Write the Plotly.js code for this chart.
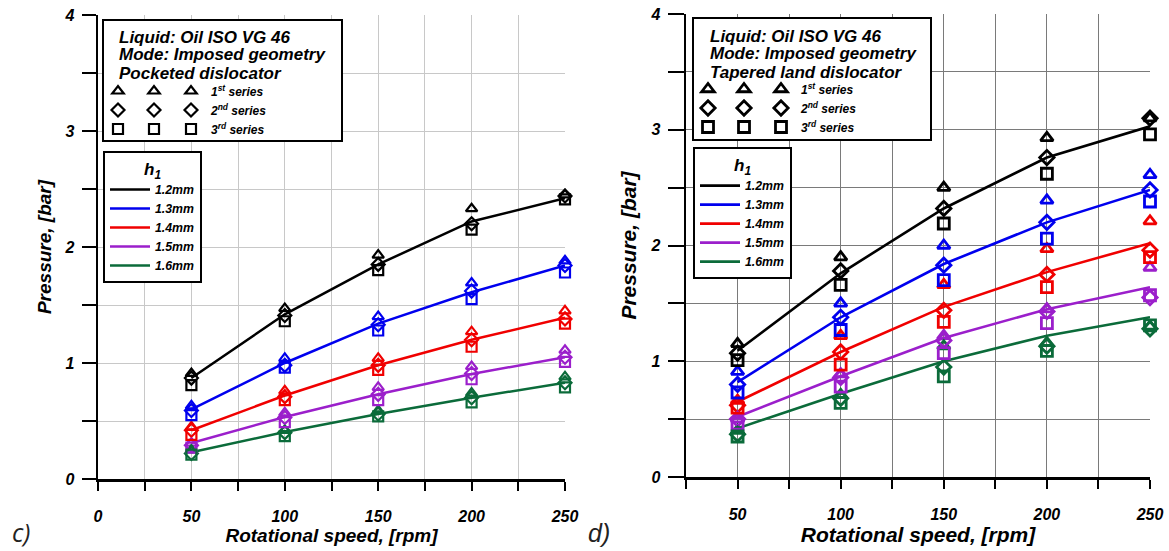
<!DOCTYPE html>
<html><head><meta charset="utf-8">
<script src="https://cdn.plot.ly/plotly-3.0.1.min.js"></script>
<style>html,body{margin:0;padding:0;background:#fff;} #chart{width:1169px;height:551px;}</style>
</head><body><div id="chart"></div>
<script>
// ---------- data ----------
const rpm = [50, 100, 150, 200, 250];
const h1Labels = ['1.2mm', '1.3mm', '1.4mm', '1.5mm', '1.6mm'];
const seriesLabels = ['1<sup>st</sup> series', '2<sup>nd</sup> series', '3<sup>rd</sup> series'];
const colors = ['#000000', '#0000ee', '#f00000', '#9b1fcb', '#0b6b3a'];

// panel c) Pocketed dislocator : rows = h1 1.2 .. 1.6 mm
const cFit = [
  [0.87, 1.42, 1.85, 2.22, 2.42],
  [0.60, 1.00, 1.34, 1.61, 1.84],
  [0.42, 0.72, 0.98, 1.20, 1.39],
  [0.31, 0.535, 0.73, 0.905, 1.05],
  [0.23, 0.405, 0.56, 0.70, 0.83]
];
const cSer1 = [
  [0.91, 1.47, 1.93, 2.33, 2.45],
  [0.63, 1.04, 1.40, 1.69, 1.88],
  [0.45, 0.76, 1.04, 1.27, 1.45],
  [0.31, 0.57, 0.79, 0.97, 1.11],
  [0.25, 0.42, 0.59, 0.74, 0.88]
];
const cSer2 = [
  [0.87, 1.41, 1.85, 2.20, 2.44],
  [0.59, 0.98, 1.33, 1.62, 1.84],
  [0.42, 0.71, 0.98, 1.20, 1.38],
  [0.29, 0.53, 0.73, 0.91, 1.05],
  [0.22, 0.40, 0.56, 0.70, 0.83]
];
const cSer3 = [
  [0.81, 1.36, 1.80, 2.15, 2.41],
  [0.55, 0.96, 1.28, 1.55, 1.78],
  [0.38, 0.68, 0.94, 1.14, 1.34],
  [0.27, 0.49, 0.68, 0.86, 1.01],
  [0.21, 0.37, 0.54, 0.66, 0.79]
];

// panel d) Tapered land dislocator
const dFit = [
  [1.09, 1.76, 2.32, 2.76, 3.03],
  [0.82, 1.38, 1.84, 2.20, 2.48],
  [0.65, 1.08, 1.47, 1.77, 2.02],
  [0.52, 0.87, 1.20, 1.45, 1.64],
  [0.42, 0.72, 1.00, 1.22, 1.38]
];
const dSer1 = [
  [1.15, 1.90, 2.50, 2.93, 3.10],
  [0.91, 1.50, 2.00, 2.39, 2.61],
  [0.66, 1.22, 1.66, 1.97, 2.21],
  [0.50, 0.89, 1.22, 1.45, 1.81],
  [0.40, 0.71, 1.13, 1.16, 1.30]
];
const dSer2 = [
  [1.07, 1.78, 2.32, 2.76, 3.10],
  [0.80, 1.38, 1.83, 2.20, 2.48],
  [0.62, 1.08, 1.44, 1.75, 1.96],
  [0.50, 0.86, 1.18, 1.43, 1.55],
  [0.37, 0.68, 0.95, 1.13, 1.28]
];
const dSer3 = [
  [1.01, 1.66, 2.19, 2.62, 2.96],
  [0.73, 1.27, 1.70, 2.06, 2.38],
  [0.60, 0.97, 1.34, 1.64, 1.90],
  [0.46, 0.78, 1.07, 1.33, 1.57],
  [0.35, 0.64, 0.87, 1.09, 1.31]
];

const xTitle = 'Rotational speed, [rpm]';
const yTitle = 'Pressure, [bar]';
const cInfo = ['Liquid: Oil ISO VG 46', 'Mode: Imposed geometry', 'Pocketed dislocator'];
const dInfo = ['Liquid: Oil ISO VG 46', 'Mode: Imposed geometry', 'Tapered land dislocator'];

// ---------- helpers ----------
const W = 1169, H = 551;
const px = v => v / W;
const py = v => 1 - v / H;
const FONT = '"Liberation Sans", Arial, sans-serif';
const bi = (size) => ({family: FONT, size: size, weight: 'bold', style: 'italic', color: '#000'});
const symbols = ['triangle-up-open', 'diamond-open', 'square-open'];

const traces = [];
function addPanel(fit, sers, xa, ya, lw, msize, mlw, legCols, legH) {
  fit.forEach((vals, i) => {
    traces.push({x: rpm, y: vals, xaxis: xa, yaxis: ya, type: 'scatter', mode: 'lines',
      line: {color: colors[i], width: lw}, name: h1Labels[i], legend: legH,
      cliponaxis: false, hoverinfo: 'skip'});
  });
  sers.forEach((ser, s) => {
    ser.forEach((vals, i) => {
      traces.push({x: rpm, y: vals, xaxis: xa, yaxis: ya, type: 'scatter', mode: 'markers',
        marker: {symbol: symbols[s], size: msize, color: colors[i], line: {color: colors[i], width: mlw}},
        showlegend: false, cliponaxis: false, hoverinfo: 'skip'});
    });
  });
  legCols.forEach((lg, c) => {
    symbols.forEach((sym, s) => {
      traces.push({x: [null], y: [null], xaxis: xa, yaxis: ya, type: 'scatter', mode: 'markers',
        marker: {symbol: sym, size: msize, color: '#000', line: {color: '#000', width: mlw}},
        name: c === 2 ? seriesLabels[s] : '\u00a0', legend: lg, showlegend: true, hoverinfo: 'skip'});
    });
  });
}
addPanel(cFit, [cSer1, cSer2, cSer3], 'x', 'y', 2.5, 10, 2.2, ['legend', 'legend2', 'legend3'], 'legend4');
addPanel(dFit, [dSer1, dSer2, dSer3], 'x2', 'y2', 2.6, 11, 2.8, ['legend5', 'legend6', 'legend7'], 'legend8');

function xAxis(domain, range, anchor, grid, tsize) {
  return {domain: domain, range: range, anchor: anchor, tick0: 0, dtick: 50,
    ticks: 'outside', ticklen: 9, tickwidth: 2, tickcolor: '#000',
    showline: true, linecolor: '#000', linewidth: 2.5, zeroline: false,
    showgrid: true, gridcolor: grid, gridwidth: 1,
    minor: {dtick: 25, ticks: 'outside', ticklen: 9, tickwidth: 2, tickcolor: '#000',
      showgrid: true, gridcolor: grid, gridwidth: 1},
    tickfont: bi(16), ticklabelstandoff: 12,
    title: {text: xTitle, font: bi(tsize), standoff: 4}, fixedrange: true};
}
function yAxis(domain, anchor, grid, tlen, tsize) {
  return {domain: domain, range: [0, 4], anchor: anchor, tick0: 0, dtick: 1,
    ticks: 'outside', ticklen: tlen, tickwidth: 2, tickcolor: '#000',
    showline: true, linecolor: '#000', linewidth: 2.5, zeroline: false,
    showgrid: true, gridcolor: grid, gridwidth: 1,
    minor: {dtick: 0.5, ticks: 'outside', ticklen: tlen, tickwidth: 2, tickcolor: '#000',
      showgrid: true, gridcolor: grid, gridwidth: 1},
    tickfont: bi(16), ticklabelstandoff: 4,
    title: {text: yTitle, font: bi(tsize), standoff: 8}, fixedrange: true};
}

function colLegend(xc, ytop) {
  return {x: px(xc - 20), y: py(ytop), xanchor: 'left', yanchor: 'top', orientation: 'v',
    bgcolor: 'rgba(0,0,0,0)', borderwidth: 0, font: bi(12), itemwidth: 30,
    itemclick: false, itemdoubleclick: false, tracegroupgap: 0};
}
function hLegend(x, ytop) {
  return {x: px(x), y: py(ytop), xanchor: 'left', yanchor: 'top', orientation: 'v',
    bgcolor: '#fff', bordercolor: '#000', borderwidth: 2, font: bi(12.3), itemwidth: 40,
    title: {text: 'h<sub>1</sub>', side: 'top center', font: bi(17)},
    itemclick: false, itemdoubleclick: false};
}

const shapes = [
  {type: 'rect', xref: 'paper', yref: 'paper', x0: px(103), x1: px(342), y0: py(141), y1: py(20),
    line: {color: '#000', width: 2}, fillcolor: '#fff', layer: 'above'},
  {type: 'rect', xref: 'paper', yref: 'paper', x0: px(693), x1: px(931), y0: py(140), y1: py(18),
    line: {color: '#000', width: 2}, fillcolor: '#fff', layer: 'above'}
];

const annotations = [];
cInfo.forEach((t, i) => annotations.push({text: t, xref: 'paper', yref: 'paper', x: px(117), y: py(37 + i * 18),
  xanchor: 'left', yanchor: 'middle', showarrow: false, font: bi(17)}));
dInfo.forEach((t, i) => annotations.push({text: t, xref: 'paper', yref: 'paper', x: px(708), y: py(36 + i * 18),
  xanchor: 'left', yanchor: 'middle', showarrow: false, font: bi(17)}));
annotations.push({text: 'c)', xref: 'paper', yref: 'paper', x: px(10), y: py(532), xanchor: 'left', yanchor: 'middle',
  showarrow: false, font: {family: '"Open Sans", sans-serif', size: 25, style: 'italic', color: '#222'}});
annotations.push({text: 'd)', xref: 'paper', yref: 'paper', x: px(586), y: py(533), xanchor: 'left', yanchor: 'middle',
  showarrow: false, font: {family: FONT, size: 25, style: 'italic', color: '#222'}});

const layout = {
  width: W, height: H, margin: {l: 0, r: 0, t: 0, b: 0},
  paper_bgcolor: '#fff', plot_bgcolor: '#fff', showlegend: true,
  xaxis: xAxis([px(98), px(565)], [0, 250], 'y', '#c8c8c8', 19),
  yaxis: yAxis([py(479), py(15)], 'x', '#c8c8c8', 14, 19),
  xaxis2: xAxis([px(686), px(1150)], [25, 250], 'y2', '#7a7a7a', 21),
  yaxis2: yAxis([py(477), py(14)], 'x2', '#7a7a7a', 16, 21),
  legend: colLegend(118, 76.5),
  legend2: colLegend(154, 76.5),
  legend3: colLegend(191, 76.5),
  legend4: hLegend(103, 151),
  legend5: colLegend(708, 74.5),
  legend6: colLegend(744, 74.5),
  legend7: colLegend(781, 74.5),
  legend8: hLegend(693, 147),
  shapes: shapes,
  annotations: annotations
};

Plotly.newPlot('chart', traces, layout, {displayModeBar: false, staticPlot: true});
</script>
</body></html>
